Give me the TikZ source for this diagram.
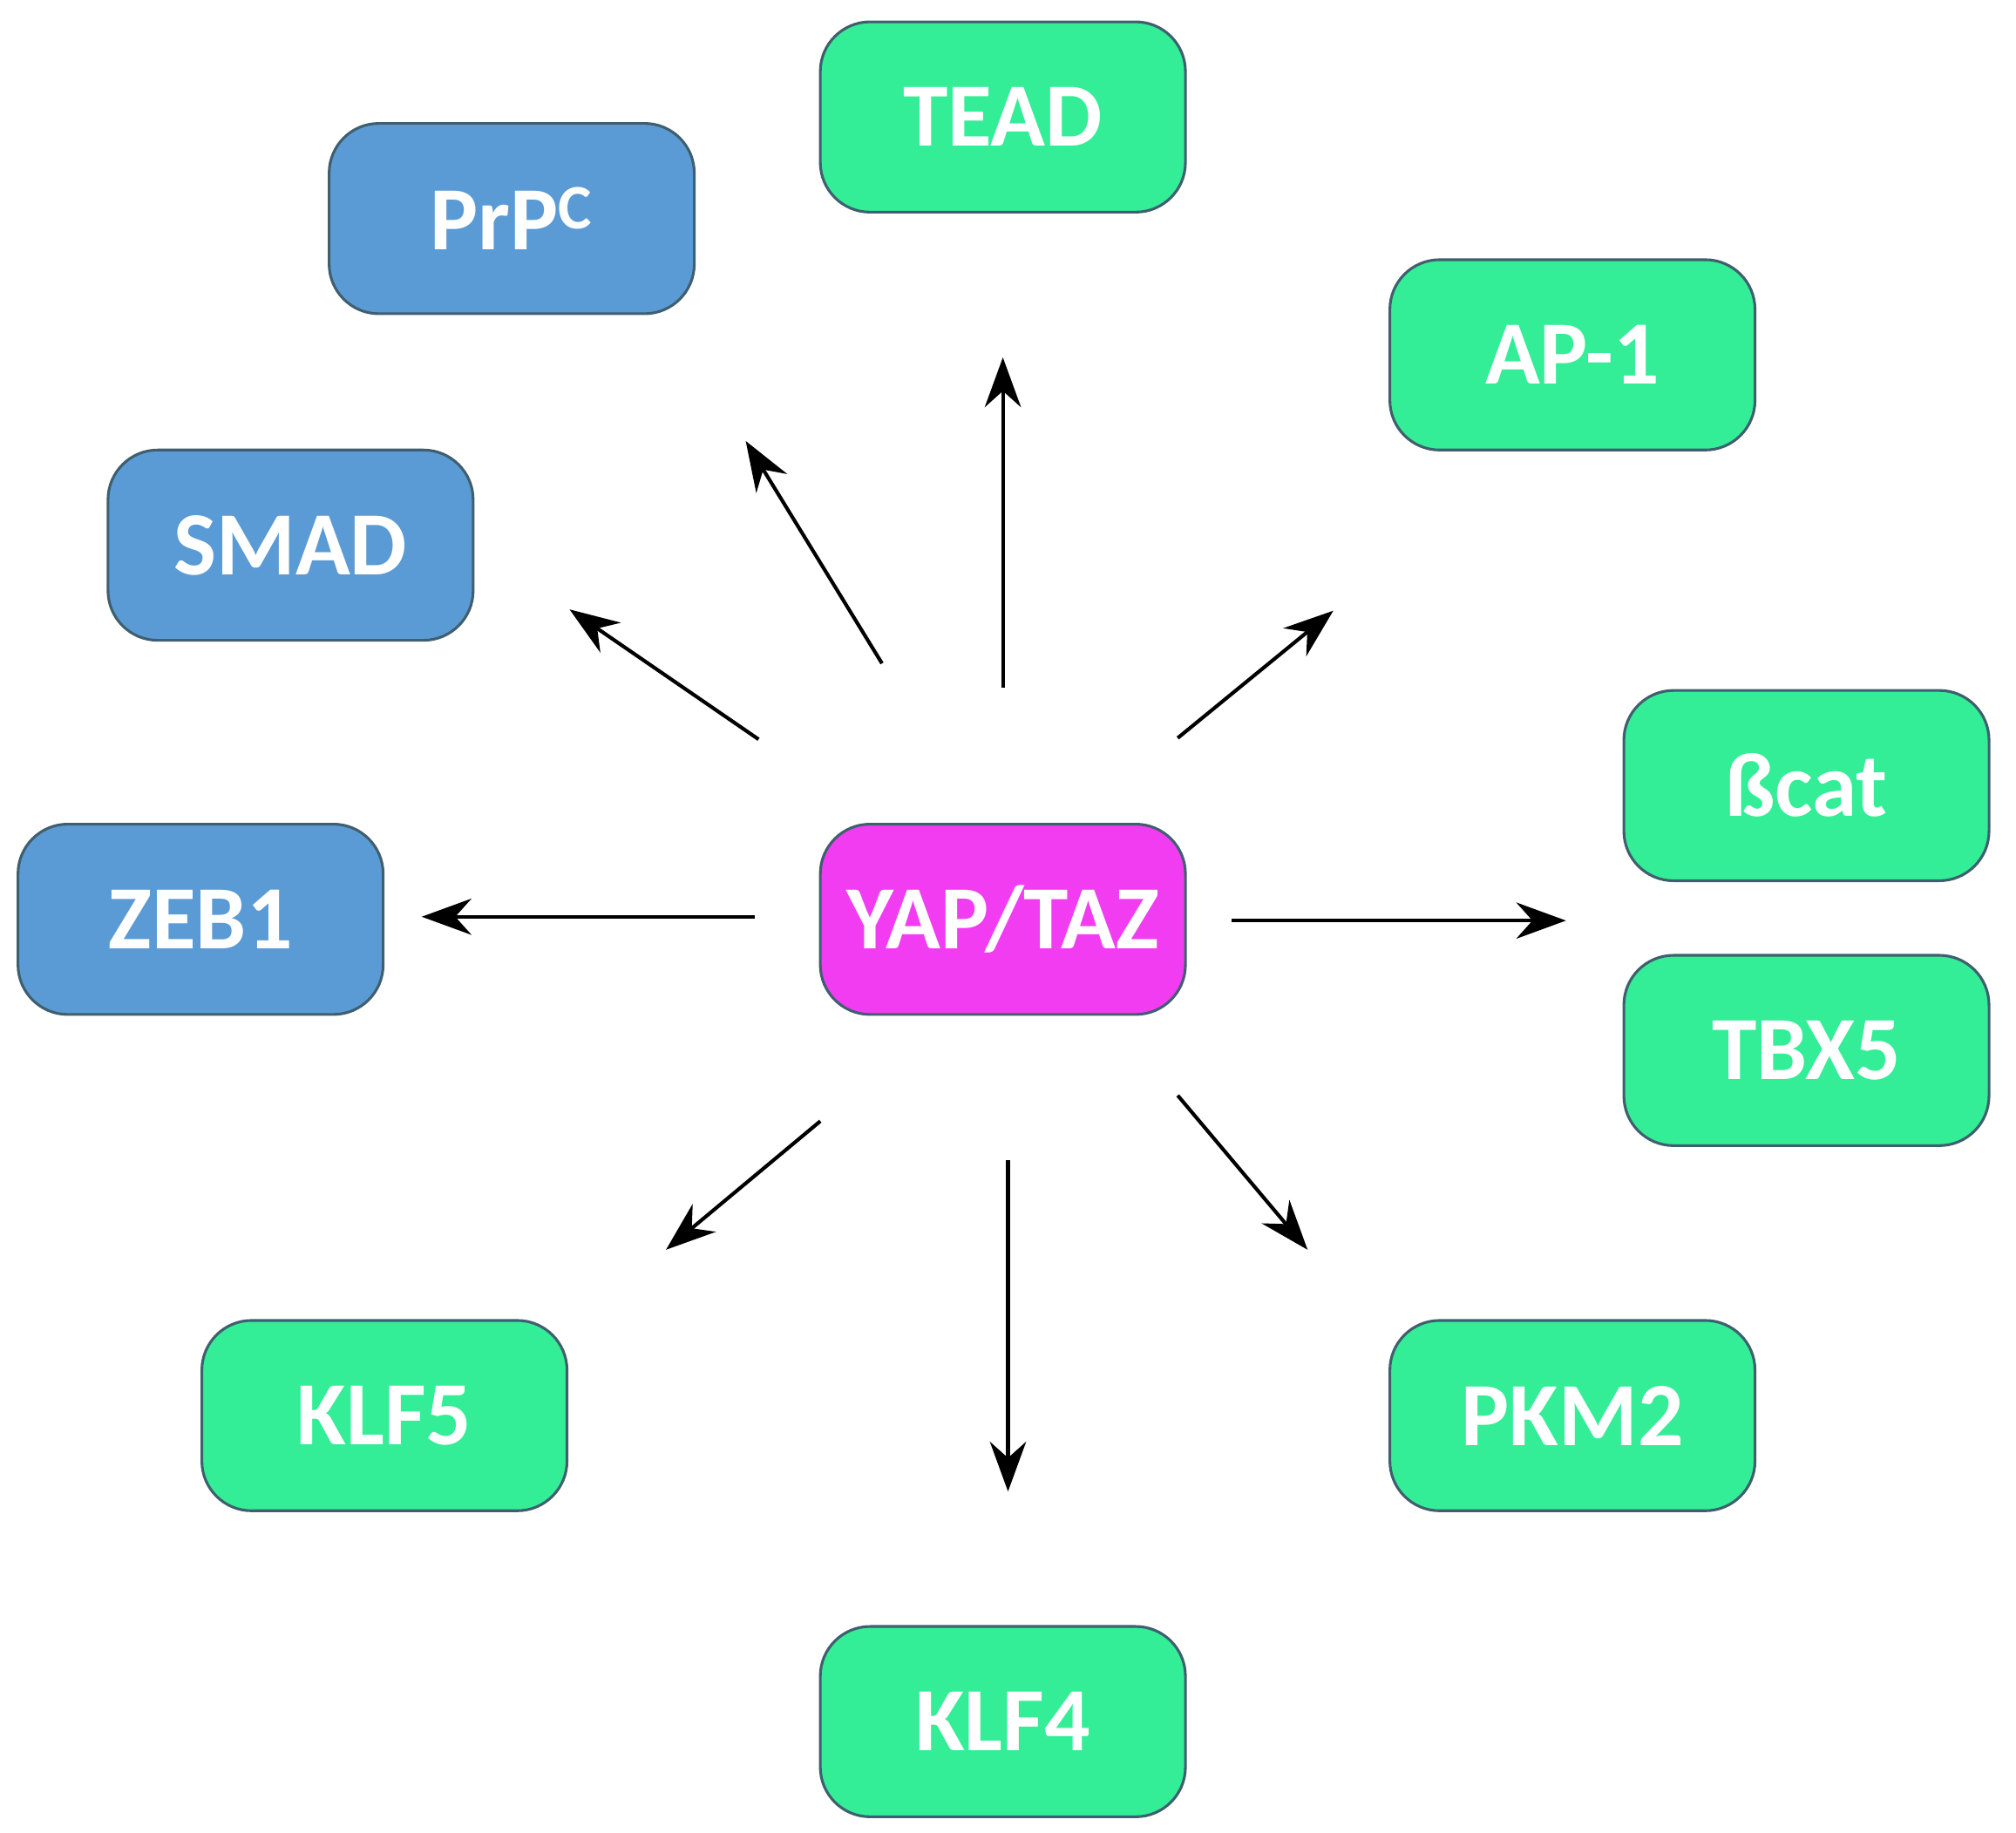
\documentclass[tikz,border=0pt]{standalone}
\usepackage{fontspec}
\setmainfont{Carlito}
\usetikzlibrary{arrows.meta}
\definecolor{gbox}{HTML}{33EE96}
\definecolor{bbox}{HTML}{5B9BD5}
\definecolor{mbox}{HTML}{F23CF2}
\definecolor{edge}{HTML}{3F5F6F}
\begin{document}
\begin{tikzpicture}[x=0.02cm,y=-0.02cm,
  box/.style={draw=edge,line width=1.2pt,rounded corners=22,minimum width=284*0.02cm,minimum height=148*0.02cm,
    text=white,font=\fontsize{40}{48}\selectfont\bfseries,inner sep=0pt},
  g/.style={box,fill=gbox},b/.style={box,fill=bbox},m/.style={box,fill=mbox},
  arr/.style={line width=1.6pt,-{Stealth[length=22pt,width=16pt]}}]
\useasboundingbox (0,0) rectangle (1568,1425);
\node[g] (tead) at (780,91) {TEAD};
\node[b] (prpc) at (398,170) {PrP\textsuperscript{C}};
\node[g] (ap1) at (1223,276) {AP-1};
\node[b] (smad) at (226,424) {SMAD};
\node[b] (zeb1) at (156,715) {ZEB1};
\node[m] (yap) at (780,715) {YAP/TAZ};
\node[g] (bcat) at (1405,611) {ßcat};
\node[g] (tbx5) at (1405,817) {TBX5};
\node[g] (klf5) at (299,1101) {KLF5};
\node[g] (pkm2) at (1223,1101) {PKM2};
\node[g] (klf4) at (780,1339) {KLF4};
\coordinate (s1) at (780,535); \coordinate (e1) at (780,278);
\coordinate (s2) at (686,516); \coordinate (e2) at (580,343);
\coordinate (s3) at (590,575); \coordinate (e3) at (443,474);
\coordinate (s4) at (587,713); \coordinate (e4) at (328,713);
\coordinate (s5) at (916,574); \coordinate (e5) at (1037,475);
\coordinate (s6) at (958,716); \coordinate (e6) at (1218,716);
\coordinate (s7) at (638,872); \coordinate (e7) at (518,972);
\coordinate (s8) at (784,902); \coordinate (e8) at (784,1160);
\coordinate (s9) at (916,852); \coordinate (e9) at (1017,972);
\foreach \i in {1,...,9} {\draw[arr] (s\i) -- (e\i);}
\end{tikzpicture}
\end{document}
